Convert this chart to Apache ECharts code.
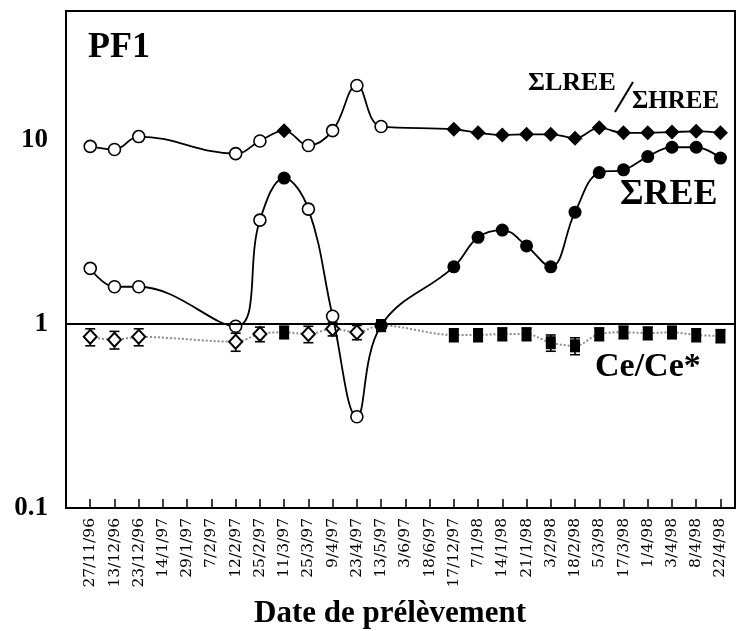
<!DOCTYPE html>
<html>
<head>
<meta charset="utf-8">
<style>
  html, body { margin: 0; padding: 0; background: #fff; }
  #chart { width: 736px; height: 631px; }
</style>
<script src="https://cdn.jsdelivr.net/npm/echarts@6/dist/echarts.min.js"></script>
</head>
<body>
<div id="chart"></div>
<script>
// Sampling dates, PF1 site
const categories = ['27/11/96','13/12/96','23/12/96','14/1/97','29/1/97','7/2/97','12/2/97','25/2/97',
  '11/3/97','25/3/97','9/4/97','23/4/97','13/5/97','3/6/97','18/6/97','17/12/97','7/1/98','14/1/98',
  '21/1/98','3/2/98','18/2/98','5/3/98','17/3/98','1/4/98','3/4/98','8/4/98','22/4/98'];

// ΣLREE/ΣHREE ratio
const lreeHree = [9.2, 8.85, 10.4, null, null, null, 8.4, 9.84, 11.2, 9.3, 11.2, 19.7, 11.8, null, null,
  11.4, 10.9, 10.6, 10.7, 10.7, 10.2, 11.6, 10.9, 10.9, 11.0, 11.1, 10.9];
const lreeHreeKind = ['o','o','o',null,null,null,'o','o','f','o','o','o','o',null,null,
  'f','f','f','f','f','f','f','f','f','f','f','f'];

// ΣREE
const sumRee = [2.0, 1.59, 1.59, null, null, null, 0.97, 3.66, 6.19, 4.2, 1.1, 0.313, 0.98, null, null,
  2.04, 2.95, 3.23, 2.65, 2.04, 4.04, 6.63, 6.86, 8.1, 9.1, 9.1, 7.95];
const sumReeKind = ['o','o','o',null,null,null,'o','o','f','o','o','o','f',null,null,
  'f','f','f','f','f','f','f','f','f','f','f','f'];

// Ce/Ce* anomaly and its uncertainty (±)
const ceAnomaly = [0.85, 0.82, 0.85, null, null, null, 0.80, 0.88, 0.90, 0.88, 0.94, 0.90, 0.98, null, null,
  0.87, 0.87, 0.88, 0.88, 0.79, 0.76, 0.88, 0.90, 0.89, 0.90, 0.87, 0.86];
const ceError = [0.09, 0.09, 0.09, null, null, null, 0.09, 0.08, 0.07, 0.09, 0.08, 0.08, 0.07, null, null,
  0.07, 0.07, 0.07, 0.07, 0.08, 0.08, 0.07, 0.07, 0.07, 0.07, 0.07, 0.07];
const ceKind = ['o','o','o',null,null,null,'o','o','f','o','o','o','f',null,null,
  'f','f','f','f','f','f','f','f','f','f','f','f'];

const yTicks = [0.1, 1, 10];

const SERIF = '"Liberation Serif", "Times New Roman", serif';

const markerStyles = {
  ratio: {
    o: { symbol: 'circle', symbolSize: 12, itemStyle: { color: '#fff', borderColor: '#000', borderWidth: 1.6 } },
    f: { symbol: 'diamond', symbolSize: 15, itemStyle: { color: '#000', borderColor: '#000', borderWidth: 0 } }
  },
  total: {
    o: { symbol: 'circle', symbolSize: 12, itemStyle: { color: '#fff', borderColor: '#000', borderWidth: 1.6 } },
    f: { symbol: 'circle', symbolSize: 13, itemStyle: { color: '#000', borderColor: '#000', borderWidth: 0 } }
  },
  ce: {
    o: { symbol: 'diamond', symbolSize: [13, 14], itemStyle: { color: '#fff', borderColor: '#000', borderWidth: 2 } },
    f: { symbol: 'rect', symbolSize: [10, 13], itemStyle: { color: '#000', borderColor: '#000', borderWidth: 0 } }
  }
};

function buildPoints(values, kinds, styles) {
  const out = [];
  values.forEach((v, i) => {
    if (v == null) return;
    const s = styles[kinds[i]];
    out.push({ value: [i, v], symbol: s.symbol, symbolSize: s.symbolSize, itemStyle: s.itemStyle });
  });
  return out;
}

const errorData = [];
ceAnomaly.forEach((v, i) => {
  if (v == null) return;
  errorData.push([i, v - ceError[i], v + ceError[i]]);
});

const chart = echarts.init(document.getElementById('chart'), null, { renderer: 'canvas' });

chart.setOption({
  animation: false,
  backgroundColor: '#fff',
  grid: {
    left: 66, top: 11, right: 1, bottom: 123,
    show: true, borderColor: '#000', borderWidth: 2, backgroundColor: 'transparent'
  },
  xAxis: {
    type: 'value',
    min: -1,
    max: 26.6,
    interval: 1,
    axisLine: { show: true, onZero: false, lineStyle: { color: '#000', width: 2 } },
    axisTick: { show: true, inside: true, length: 9, lineStyle: { color: '#000', width: 1.5 } },
    splitLine: { show: false },
    axisLabel: {
      rotate: 90,
      margin: 10,
      color: '#000',
      fontFamily: '"DejaVu Serif", serif',
      fontSize: 15.5,
      showMinLabel: true,
      showMaxLabel: true,
      formatter: function (v) {
        const r = Math.round(v);
        if (Math.abs(v - r) > 1e-6 || r < 0 || r >= categories.length) return '';
        return categories[r];
      }
    }
  },
  yAxis: {
    type: 'log',
    logBase: 10,
    min: 0.1,
    max: 50,
    axisLine: { show: true, onZero: false, lineStyle: { color: '#000', width: 2 } },
    axisTick: { show: false },
    splitLine: { show: false },
    axisLabel: {
      margin: 18,
      color: '#000',
      fontFamily: SERIF,
      fontWeight: 'bold',
      fontSize: 27,
      formatter: function (v) {
        for (const t of yTicks) {
          if (Math.abs(v - t) / t < 1e-6) return String(t);
        }
        return '';
      }
    }
  },
  series: [
    {
      name: 'ref',
      type: 'line',
      data: [],
      silent: true,
      markLine: {
        silent: true,
        symbol: 'none',
        label: { show: false },
        lineStyle: { color: '#000', width: 2, type: 'solid' },
        data: [{ yAxis: 1 }]
      },
      z: 1
    },
    {
      name: 'Ce/Ce* error',
      type: 'custom',
      silent: true,
      z: 2,
      data: errorData,
      renderItem: function (params, api) {
        const x = api.value(0);
        const lo = api.coord([x, api.value(1)]);
        const hi = api.coord([x, api.value(2)]);
        const cap = 5;
        const style = { stroke: '#000', lineWidth: 1.6, fill: null };
        return {
          type: 'group',
          children: [
            { type: 'line', shape: { x1: lo[0], y1: lo[1], x2: hi[0], y2: hi[1] }, style: style },
            { type: 'line', shape: { x1: lo[0] - cap, y1: lo[1], x2: lo[0] + cap, y2: lo[1] }, style: style },
            { type: 'line', shape: { x1: hi[0] - cap, y1: hi[1], x2: hi[0] + cap, y2: hi[1] }, style: style }
          ]
        };
      }
    },
    {
      name: 'Ce/Ce*',
      type: 'line',
      smooth: 0.35,
      silent: true,
      z: 3,
      showSymbol: true,
      lineStyle: { color: '#8c8c8c', width: 2, type: 'dotted' },
      data: buildPoints(ceAnomaly, ceKind, markerStyles.ce)
    },
    {
      name: 'ΣREE',
      type: 'line',
      smooth: 0.4,
      silent: true,
      z: 4,
      showSymbol: true,
      lineStyle: { color: '#000', width: 1.8 },
      data: buildPoints(sumRee, sumReeKind, markerStyles.total)
    },
    {
      name: 'ΣLREE/ΣHREE',
      type: 'line',
      smooth: 0.4,
      silent: true,
      z: 4,
      showSymbol: true,
      lineStyle: { color: '#000', width: 1.8 },
      data: buildPoints(lreeHree, lreeHreeKind, markerStyles.ratio)
    }
  ],
  graphic: [
    { type: 'text', left: 88, top: 30, style: { text: 'PF1', font: 'bold 36px ' + SERIF, fill: '#000' } },
    { type: 'text', x: 528, y: 83, style: { text: 'ΣLREE', font: 'bold 26px ' + SERIF, fill: '#000', verticalAlign: 'middle' } },
    { type: 'line', shape: { x1: 615, y1: 112, x2: 633, y2: 82 }, style: { stroke: '#000', lineWidth: 2 } },
    { type: 'text', x: 632, y: 102, style: { text: 'ΣHREE', font: 'bold 25px ' + SERIF, fill: '#000', verticalAlign: 'middle' } },
    { type: 'text', x: 620, y: 195, style: { text: 'ΣREE', font: 'bold 36px ' + SERIF, fill: '#000', verticalAlign: 'middle' } },
    { type: 'text', x: 595, y: 367, style: { text: 'Ce/Ce*', font: 'bold 34px ' + SERIF, fill: '#000', verticalAlign: 'middle' } },
    { type: 'text', x: 390, y: 614, style: { text: 'Date de prélèvement', font: 'bold 31px ' + SERIF, fill: '#000', align: 'center', verticalAlign: 'middle' } }
  ]
});
</script>
</body>
</html>
